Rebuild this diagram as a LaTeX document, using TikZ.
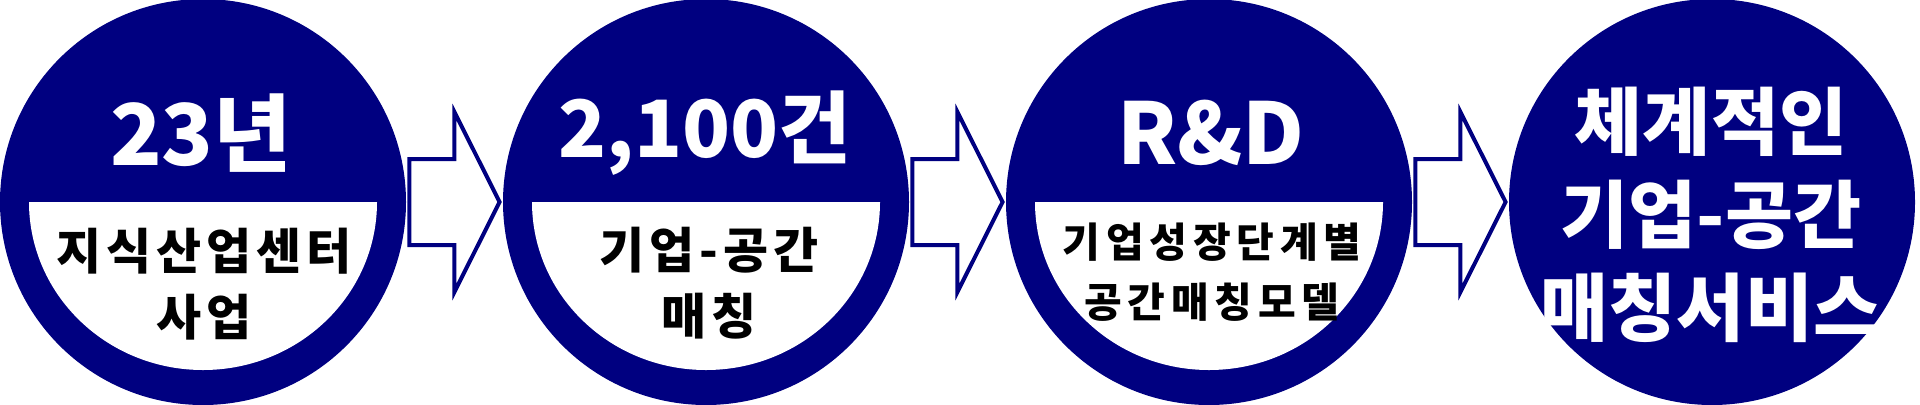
\documentclass[tikz,border=0pt]{standalone}
\usepackage{fontspec}
\setmainfont{Noto Sans CJK KR}
\usetikzlibrary{calc}
\definecolor{circblue}{RGB}{0,0,128}

\begin{document}
\begin{tikzpicture}[x=0.5pt, y=0.5pt,
  stage/.style={circle, fill=circblue, minimum size=203pt, inner sep=0pt},
  toplabel/.style={text=white, inner sep=0pt, font=\bfseries\fontsize{42.5}{50}\selectfont},
  sublabel/.style={text=black, align=center, inner sep=0pt, font=\bfseries\fontsize{24.5}{33}\selectfont\addfontfeatures{LetterSpace=10}},
  blockarrow/.style={draw=circblue, line width=2pt, fill=white, line join=miter}]
  \useasboundingbox (0,0) rectangle (1920,404);
  \node[stage] (c1) at (203,202) {};
  \node[stage] (c2) at (706,202) {};
  \node[stage] (c3) at (1209,202) {};
  \node[stage] (c4) at (1712,202) {};
  % white lower halves
  \fill[white] ($(c1.center)+(-174,0)$) arc[start angle=180, end angle=360, x radius=174, y radius=168] -- cycle;
  \fill[white] ($(c2.center)+(-174,0)$) arc[start angle=180, end angle=360, x radius=174, y radius=168] -- cycle;
  \fill[white] ($(c3.center)+(-174,0)$) arc[start angle=180, end angle=360, x radius=174, y radius=168] -- cycle;
  % arrows between the stages
  \draw[blockarrow] ($(c1.east)+(3,43)$) -- ++(45,0) -- ++(0,47) -- ($(c2.west)+(-3,0)$) -- ($(c1.east)+(48,-90)$) -- ++(0,47) -- ++(-45,0) -- cycle;
  \draw[blockarrow] ($(c2.east)+(3,43)$) -- ++(45,0) -- ++(0,47) -- ($(c3.west)+(-3,0)$) -- ($(c2.east)+(48,-90)$) -- ++(0,47) -- ++(-45,0) -- cycle;
  \draw[blockarrow] ($(c3.east)+(3,43)$) -- ++(45,0) -- ++(0,47) -- ($(c4.west)+(-3,0)$) -- ($(c3.east)+(48,-90)$) -- ++(0,47) -- ++(-45,0) -- cycle;
  % labels
  \node[toplabel] (n1) at (201,271) {23년};
  \node[toplabel, font=\bfseries\fontsize{39.5}{46}\selectfont] (n2) at (705,271) {2,100건};
  \node[toplabel] (n3) at (1211,271) {R\&D};
  \node[sublabel] (s1) at (204,120) {지식산업센터\\사업};
  \node[sublabel] (s2) at (709,121) {기업-공간\\매칭};
  \node[sublabel, font=\bfseries\fontsize{20.5}{30}\selectfont\addfontfeatures{LetterSpace=14}] (s3) at (1212,132) {기업성장단계별\\공간매칭모델};
  \node[text=white, align=center, inner sep=0pt, font=\bfseries\fontsize{37}{46.5}\selectfont] (s4) at (1711,189) {체계적인\\기업-공간\\매칭서비스};
\end{tikzpicture}
\end{document}
